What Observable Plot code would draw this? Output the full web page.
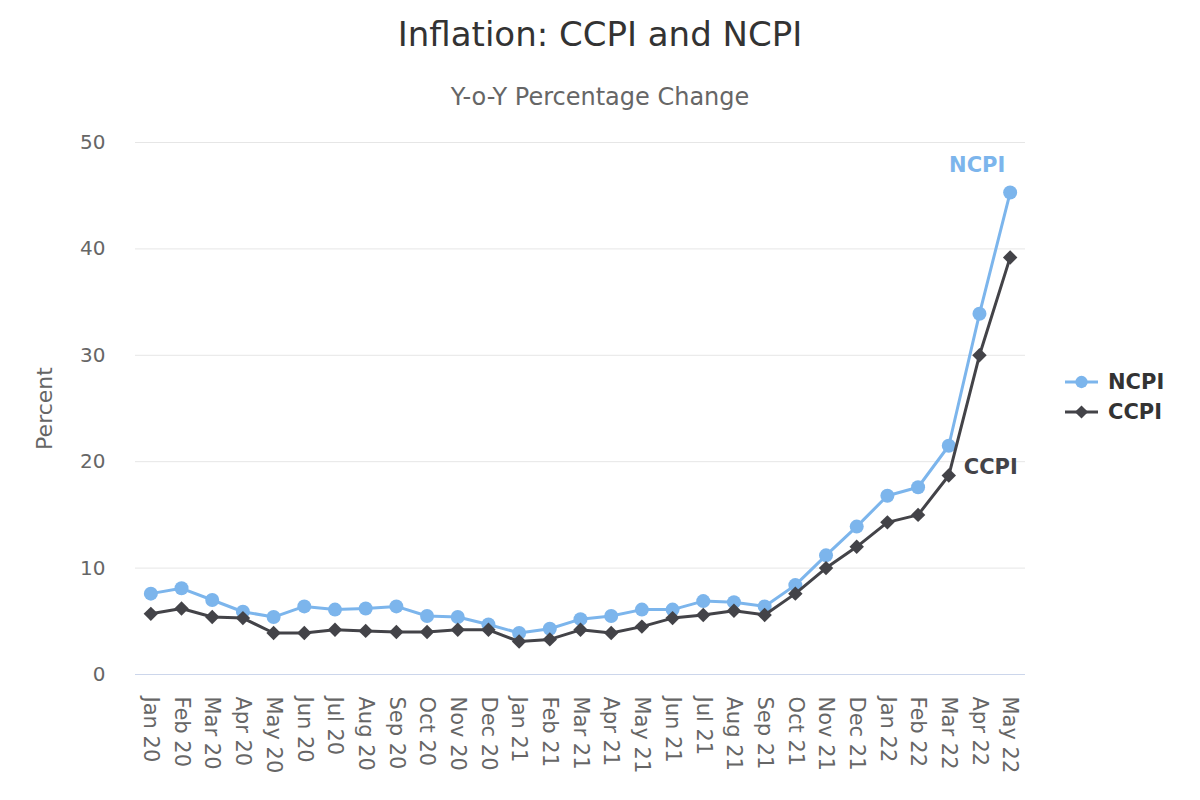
<!DOCTYPE html>
<html>
<head>
<meta charset="utf-8">
<script src="https://cdn.jsdelivr.net/npm/d3@7"></script>
<script src="https://cdn.jsdelivr.net/npm/@observablehq/plot@0.6"></script>
<style>
  body { margin: 0; background: #fff; font-family: "DejaVu Sans", sans-serif; }
  #wrap { position: relative; width: 1200px; height: 800px; overflow: hidden; }
  #title { position: absolute; left: 0; width: 1200px; top: 14px; text-align: center; font-size: 34px; color: #333; }
  #subtitle { position: absolute; left: 0; width: 1200px; top: 83px; text-align: center; font-size: 24px; color: #666; }
  #chart { position: absolute; left: 0; top: 120px; }
  #legend { position: absolute; left: 1060px; top: 366px; }
</style>
</head>
<body>
<div id="wrap">
  <div id="title">Inflation: CCPI and NCPI</div>
  <div id="subtitle">Y-o-Y Percentage Change</div>
  <div id="chart"></div>
  <div id="legend"></div>
</div>
<script>
const months = ["Jan 20","Feb 20","Mar 20","Apr 20","May 20","Jun 20","Jul 20","Aug 20","Sep 20","Oct 20","Nov 20","Dec 20",
  "Jan 21","Feb 21","Mar 21","Apr 21","May 21","Jun 21","Jul 21","Aug 21","Sep 21","Oct 21","Nov 21","Dec 21",
  "Jan 22","Feb 22","Mar 22","Apr 22","May 22"];
const ncpi = [7.6, 8.1, 7.0, 5.9, 5.4, 6.4, 6.1, 6.2, 6.4, 5.5, 5.4, 4.7,
  3.9, 4.3, 5.2, 5.5, 6.1, 6.1, 6.9, 6.8, 6.4, 8.4, 11.2, 13.9,
  16.8, 17.6, 21.5, 33.9, 45.3];
const ccpi = [5.7, 6.2, 5.4, 5.3, 3.9, 3.9, 4.2, 4.1, 4.0, 4.0, 4.2, 4.2,
  3.1, 3.3, 4.2, 3.9, 4.5, 5.3, 5.6, 6.0, 5.6, 7.6, 10.0, 12.0,
  14.3, 15.0, 18.7, 30.0, 39.2];
const yTicks = [0, 10, 20, 30, 40, 50];
const seriesNames = ["NCPI", "CCPI"];
const seriesColors = ["#7cb5ec", "#434348"];
const seriesSymbols = ["circle", "diamond2"];

const nData = months.map((m, i) => ({month: m, value: ncpi[i], series: "NCPI"}));
const cData = months.map((m, i) => ({month: m, value: ccpi[i], series: "CCPI"}));

const font = "DejaVu Sans, sans-serif";

const chart = Plot.plot({
  width: 1200,
  height: 680,
  marginLeft: 135,
  marginRight: 175,
  marginTop: 22,
  marginBottom: 126,
  style: {fontFamily: font, background: "#fff"},
  x: {type: "point", domain: months, padding: 0.5, round: false},
  y: {domain: [0, 50]},
  marks: [
    Plot.gridY(yTicks, {stroke: "#e6e6e6", strokeOpacity: 1, strokeWidth: 1}),
    Plot.ruleY([0], {stroke: "#ccd6eb", strokeWidth: 1}),
    Plot.axisY({ticks: yTicks, tickSize: 0, tickPadding: 30, fontSize: 20, color: "#666", label: null}),
    Plot.axisY({ticks: [], tickSize: 0, fontSize: 22, color: "#666",
      label: "Percent", labelAnchor: "center", labelArrow: "none", labelOffset: 99}),
    Plot.axisX({tickSize: 0, tickPadding: 22, tickRotate: 90, fontSize: 21, color: "#666", label: null}),
    Plot.line(nData, {x: "month", y: "value", stroke: seriesColors[0], strokeWidth: 3}),
    Plot.dot(nData, {x: "month", y: "value", fill: seriesColors[0], r: 7, symbol: seriesSymbols[0]}),
    Plot.line(cData, {x: "month", y: "value", stroke: seriesColors[1], strokeWidth: 3}),
    Plot.dot(cData, {x: "month", y: "value", fill: seriesColors[1], r: 6.5, symbol: seriesSymbols[1]}),
    Plot.text(nData.slice(-1), {x: "month", y: "value", text: "series", fill: seriesColors[0], fontWeight: "bold", fontSize: 21, dx: -33, dy: -27}),
    Plot.text(cData.slice(-3, -2), {x: "month", y: "value", text: "series", fill: seriesColors[1], fontWeight: "bold", fontSize: 21, textAnchor: "start", dx: 15, dy: -8})
  ]
});
document.getElementById("chart").appendChild(chart);

// Legend
const lg = d3.select("#legend").append("svg").attr("width", 135).attr("height", 70)
  .style("font-family", font);
seriesNames.forEach((name, i) => {
  const g = lg.append("g").attr("transform", `translate(0, ${16 + i * 30})`);
  g.append("line").attr("x1", 5).attr("x2", 38).attr("y1", 0).attr("y2", 0)
    .attr("stroke", seriesColors[i]).attr("stroke-width", 3);
  const sym = i === 0 ? d3.symbolCircle : d3.symbolDiamond2;
  g.append("path").attr("d", d3.symbol(sym, i === 0 ? 120 : 110)())
    .attr("transform", "translate(21.5,0)").attr("fill", seriesColors[i]);
  g.append("text").attr("x", 48).attr("y", 0).attr("dy", "0.35em")
    .attr("font-size", 21).attr("font-weight", "bold").attr("fill", "#333").text(name);
});
</script>
</body>
</html>
